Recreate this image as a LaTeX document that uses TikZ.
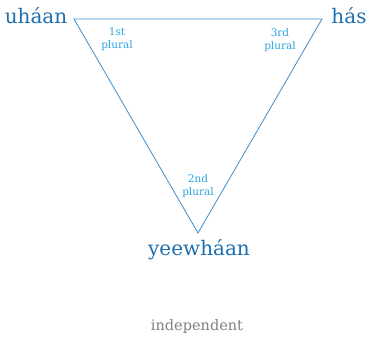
\documentclass[tikz,border=0pt]{standalone}
\usepackage{fontspec}
\setmainfont{DejaVu Serif}
\usetikzlibrary{positioning}
\definecolor{pronoun}{HTML}{1D6FB0}
\definecolor{edge}{HTML}{3C8CCB}
\definecolor{person}{HTML}{2AA3E0}
\definecolor{caption}{HTML}{808080}

\begin{document}
\begin{tikzpicture}[
    x=1pt, y=-1pt,
    pronoun/.style = {text=pronoun, font=\fontsize{20}{24}\selectfont, inner sep=0pt},
    person/.style = {text=person, font=\fontsize{10.5}{13}\selectfont, align=center, inner sep=0pt},
    caption/.style = {text=caption, font=\fontsize{14.5}{17}\selectfont, inner sep=0pt},
    edge/.style = {draw=edge, line width=0.8pt, line join=miter},
]
\useasboundingbox (0,0) rectangle (367,344);

% Corners of the triangle
\coordinate (first) at (74,19);
\coordinate (third) at (322,19);
\coordinate (second) at (198,233);

\draw [edge] (first) -- (third) -- (second) -- cycle;

% Pronouns
\node [pronoun] (uhaan) at (36,16) {uháan};
\node [pronoun] (has) at (349,16) {hás};
\node [pronoun] (yeewhaan) at (199,250) {yeewháan};

% Persons
\node [person] (p1) at (117,39) {1st\\plural};
\node [person] (p3) at (280,40) {3rd\\plural};
\node [person] (p2) at (198,186) {2nd\\plural};

\node [caption] (independent) at (197,327) {independent};

\end{tikzpicture}
\end{document}
